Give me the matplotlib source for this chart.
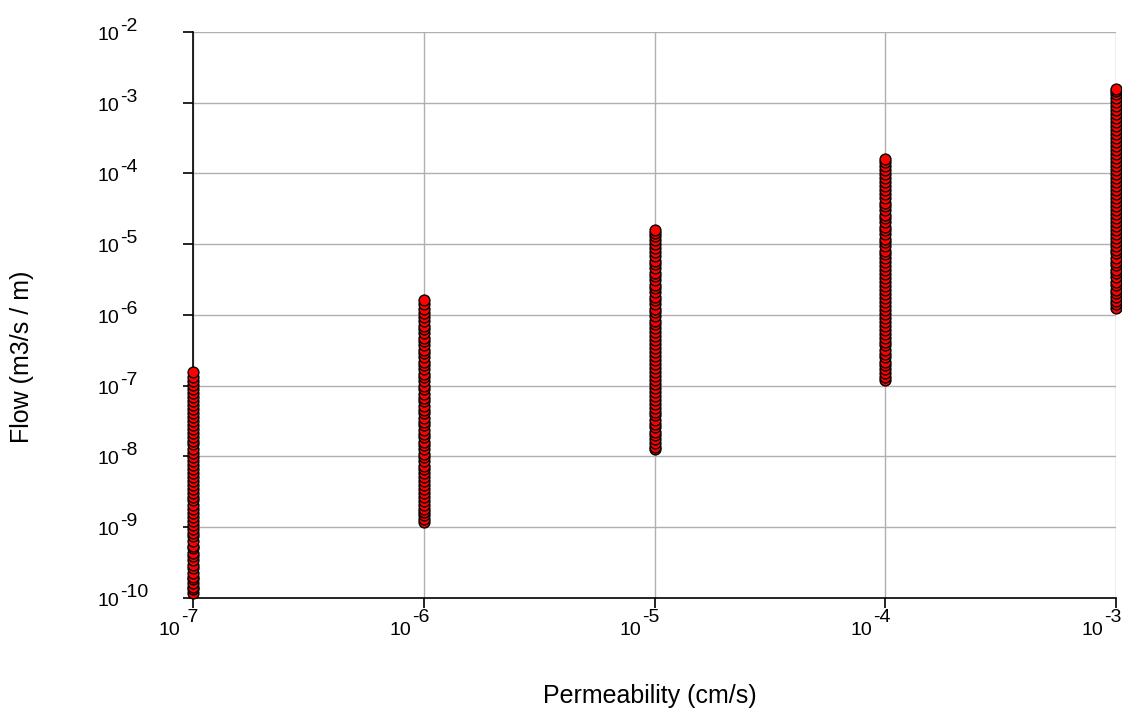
import numpy as np
import matplotlib
matplotlib.use("Agg")
import matplotlib.pyplot as plt
import matplotlib.transforms as mtransforms

plt.rcParams['font.family'] = ['Liberation Sans', 'DejaVu Sans']

# permeability values (cm/s), one column of points per value
permeability = [1e-7, 1e-6, 1e-5, 1e-4, 1e-3]

# log10 of flow (m3/s/m)
flow_exp_k7 = [-9.93, -9.88, -9.84, -9.79, -9.73, -9.70, -9.64, -9.58, -9.53, -9.47,
               -9.41, -9.36, -9.30, -9.26, -9.19, -9.13, -9.08, -9.02, -8.97, -8.91,
               -8.85, -8.80, -8.74, -8.69, -8.62, -8.57, -8.51, -8.46, -8.40, -8.34,
               -8.29, -8.23, -8.17, -8.12, -8.06, -8.01, -7.95, -7.89, -7.83, -7.78,
               -7.72, -7.67, -7.61, -7.55, -7.50, -7.44, -7.38, -7.33, -7.27, -7.21,
               -7.16, -7.10, -7.04, -6.99, -6.93, -6.87, -6.80]
flow_exp_k6 = [-8.93, -8.89, -8.83, -8.78, -8.74, -8.68, -8.63, -8.57, -8.52, -8.46,
               -8.40, -8.35, -8.29, -8.24, -8.18, -8.13, -8.07, -8.01, -7.96, -7.90,
               -7.84, -7.79, -7.73, -7.68, -7.62, -7.56, -7.51, -7.45, -7.39, -7.34,
               -7.28, -7.22, -7.17, -7.11, -7.05, -7.00, -6.94, -6.88, -6.83, -6.77,
               -6.71, -6.66, -6.60, -6.54, -6.49, -6.43, -6.37, -6.32, -6.26, -6.20,
               -6.15, -6.09, -6.03, -5.97, -5.91, -5.85, -5.79]
flow_exp_k5 = [-7.90, -7.86, -7.81, -7.75, -7.70, -7.65, -7.59, -7.54, -7.48, -7.42,
               -7.37, -7.31, -7.26, -7.20, -7.14, -7.09, -7.03, -6.98, -6.92, -6.86,
               -6.81, -6.75, -6.69, -6.64, -6.58, -6.53, -6.47, -6.41, -6.36, -6.30,
               -6.24, -6.19, -6.13, -6.08, -6.02, -5.96, -5.91, -5.85, -5.79, -5.74,
               -5.68, -5.62, -5.57, -5.51, -5.45, -5.40, -5.34, -5.28, -5.23, -5.17,
               -5.11, -5.06, -5.00, -4.94, -4.88, -4.84, -4.80]
flow_exp_k4 = [-6.92, -6.87, -6.82, -6.77, -6.71, -6.66, -6.60, -6.55, -6.49, -6.43,
               -6.38, -6.32, -6.27, -6.21, -6.15, -6.10, -6.04, -5.99, -5.93, -5.87,
               -5.82, -5.76, -5.70, -5.65, -5.59, -5.54, -5.48, -5.42, -5.37, -5.31,
               -5.25, -5.20, -5.14, -5.09, -5.03, -4.97, -4.92, -4.86, -4.80, -4.75,
               -4.69, -4.63, -4.58, -4.52, -4.46, -4.41, -4.35, -4.29, -4.24, -4.18,
               -4.12, -4.07, -4.01, -3.95, -3.89, -3.84, -3.80]
flow_exp_k3 = [-5.90, -5.85, -5.80, -5.75, -5.69, -5.64, -5.58, -5.53, -5.47, -5.41,
               -5.36, -5.30, -5.25, -5.19, -5.13, -5.08, -5.02, -4.97, -4.91, -4.85,
               -4.80, -4.74, -4.68, -4.63, -4.57, -4.52, -4.46, -4.40, -4.35, -4.29,
               -4.23, -4.18, -4.12, -4.07, -4.01, -3.95, -3.90, -3.84, -3.78, -3.73,
               -3.67, -3.61, -3.56, -3.50, -3.44, -3.39, -3.33, -3.27, -3.22, -3.16,
               -3.10, -3.05, -2.99, -2.93, -2.88, -2.84, -2.81]

columns = [flow_exp_k7, flow_exp_k6, flow_exp_k5, flow_exp_k4, flow_exp_k3]

x_tick_exps = [-7, -6, -5, -4, -3]
y_tick_exps = [-10, -9, -8, -7, -6, -5, -4, -3, -2]

fig = plt.figure(figsize=(11.22, 7.08), dpi=100)
ax = fig.add_axes([0.172, 0.1554, 0.8227, 0.7994])

for k, exps in zip(permeability, columns):
    flows = 10.0 ** np.array(exps)
    ax.plot([k] * len(flows), flows, linestyle='none', marker='o', markersize=7.8,
            markerfacecolor='#ff0000', markeredgecolor='black', markeredgewidth=1.0,
            zorder=3, clip_on=False)

ax.set_xscale('log')
ax.set_yscale('log')
ax.set_xlim(1e-7, 1e-3)
ax.set_ylim(1e-10, 1e-2)

ax.set_xticks([10.0 ** e for e in x_tick_exps])
ax.set_yticks([10.0 ** e for e in y_tick_exps])
ax.minorticks_off()
ax.set_xticklabels([])
ax.set_yticklabels([])

ax.grid(True, color='#b0b0b0', linewidth=1.0)
ax.set_axisbelow(True)
for s in ['top', 'right']:
    ax.spines[s].set_visible(False)
for s in ['left', 'bottom']:
    ax.spines[s].set_linewidth(1.2)
    ax.spines[s].set_color('black')

ax.tick_params(axis='both', direction='out', length=7, width=1.2)

# tick labels drawn as "10" with a full-size raised exponent, like the original
fs = 14
px = 1 / 100
ytrans = mtransforms.blended_transform_factory(ax.transAxes, ax.transData)
for e in y_tick_exps:
    base = ytrans + mtransforms.ScaledTranslation(-74 * px, -8 * px, fig.dpi_scale_trans)
    sup = ytrans + mtransforms.ScaledTranslation(-73 * px, 1 * px, fig.dpi_scale_trans)
    ax.text(0, 10.0 ** e, '10', transform=base, ha='right', va='baseline', fontsize=fs)
    ax.text(0, 10.0 ** e, '-%d' % -e, transform=sup, ha='left', va='baseline', fontsize=fs)

xtrans = mtransforms.blended_transform_factory(ax.transData, ax.transAxes)
for e in x_tick_exps:
    base = xtrans + mtransforms.ScaledTranslation(-13 * px, -37 * px, fig.dpi_scale_trans)
    sup = xtrans + mtransforms.ScaledTranslation(-12 * px, -24 * px, fig.dpi_scale_trans)
    ax.text(10.0 ** e, 0, '10', transform=base, ha='right', va='baseline', fontsize=fs)
    ax.text(10.0 ** e, 0, '-%d' % -e, transform=sup, ha='left', va='baseline', fontsize=fs)

ax.set_xlabel('Permeability (cm/s)', fontsize=18)
ax.set_ylabel('Flow (m3/s / m)', fontsize=18)
ax.xaxis.set_label_coords(0.495, -0.152)
ax.yaxis.set_label_coords(-0.172, 0.426)

fig.savefig('out.png', dpi=100)
